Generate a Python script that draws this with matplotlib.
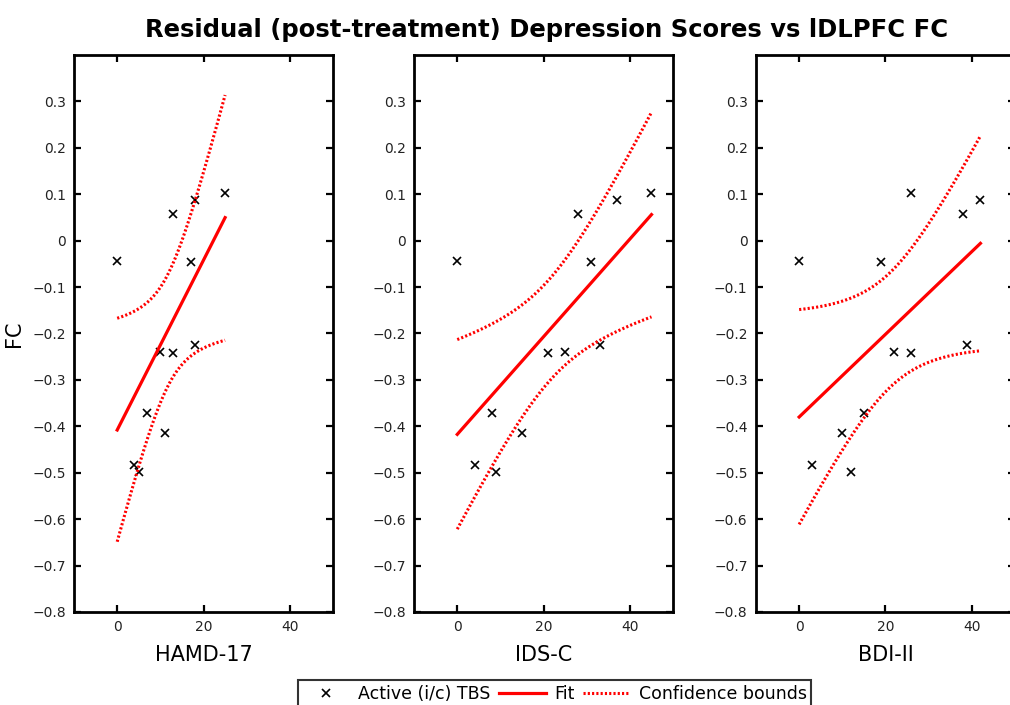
import matplotlib
matplotlib.use('Agg')
import matplotlib.pyplot as plt
import numpy as np
from matplotlib.ticker import FuncFormatter

# residual FC for the 12 subjects (same order in every panel)
fc = [-0.043, 0.058, 0.087, 0.102, -0.045, -0.240, -0.242, -0.224, -0.372, -0.414, -0.484, -0.498]
# post-treatment scores on each scale
hamd = [0, 13, 18, 25, 17, 10, 13, 18, 7, 11, 4, 5]
idsc = [0, 28, 37, 45, 31, 25, 21, 33, 8, 15, 4, 9]
bdi = [0, 38, 42, 26, 19, 22, 26, 39, 15, 10, 3, 12]
scale_names = ['HAMD-17', 'IDS-C', 'BDI-II']
t_crit = 2.228  # t(0.975, df=10)

yticks = [0.3, 0.2, 0.1, 0, -0.1, -0.2, -0.3, -0.4, -0.5, -0.6, -0.7, -0.8]
xticks = [0, 20, 40]

plt.rcParams['font.family'] = ['DejaVu Sans']


def fmt(v, pos):
    if abs(v) < 1e-9:
        return '0'
    return ('%.1f' % v).replace('-', '\u2212')


def fit_with_bounds(x, y):
    x = np.asarray(x, float)
    y = np.asarray(y, float)
    n = len(x)
    slope, icpt = np.polyfit(x, y, 1)
    resid = y - (slope * x + icpt)
    s = np.sqrt(np.sum(resid ** 2) / (n - 2))
    sxx = np.sum((x - x.mean()) ** 2)
    xs = np.linspace(x.min(), x.max(), 100)
    yf = slope * xs + icpt
    hw = t_crit * s * np.sqrt(1.0 / n + (xs - x.mean()) ** 2 / sxx)
    return xs, yf, yf - hw, yf + hw


fig = plt.figure(figsize=(10.1, 7.05), dpi=100)

dots = (0, (0.7, 0.7))
lefts = [0.0733, 0.410, 0.7485]
handles = None
for i, (scores, name) in enumerate(zip([hamd, idsc, bdi], scale_names)):
    ax = fig.add_axes([lefts[i], 0.132, 0.2564, 0.790])
    xs, yf, lo, hi = fit_with_bounds(scores, fc)
    h1, = ax.plot(scores, fc, 'x', color='black', ms=6, mew=1.2, label='Active (i/c) TBS')
    h2, = ax.plot(xs, yf, '-', color='red', lw=2.3, label='Fit')
    h3, = ax.plot(xs, lo, linestyle=dots, color='red', lw=2.2, label='Confidence bounds')
    ax.plot(xs, hi, linestyle=dots, color='red', lw=2.2)
    if handles is None:
        handles = [h1, h2, h3]
    ax.set_xlim(-10, 50)
    ax.set_ylim(-0.8, 0.4)
    ax.set_xticks(xticks)
    ax.set_yticks(yticks)
    ax.yaxis.set_major_formatter(FuncFormatter(fmt))
    ax.tick_params(direction='in', top=True, right=True, length=5, width=1.6,
                   labelsize=10, labelcolor='#222222', pad=6)
    for sp in ax.spines.values():
        sp.set_linewidth(2)
    ax.set_xlabel(name, fontsize=15, labelpad=8)
    if i == 0:
        ax.set_ylabel('FC', fontsize=15, labelpad=6)

fig.text(0.541, 0.957, 'Residual (post-treatment) Depression Scores vs lDLPFC FC',
         ha='center', va='center', fontsize=17.5, fontweight='bold')

leg = fig.legend(handles, [h.get_label() for h in handles], loc='lower center',
                 bbox_to_anchor=(0.549, -0.008), ncol=3, frameon=True, fancybox=False,
                 edgecolor='black', fontsize=12.5, handlelength=2.7, columnspacing=0.5,
                 handletextpad=0.5, borderpad=0.25, borderaxespad=0.2)
leg.get_frame().set_linewidth(1.5)

fig.savefig('out.png', dpi=100)
